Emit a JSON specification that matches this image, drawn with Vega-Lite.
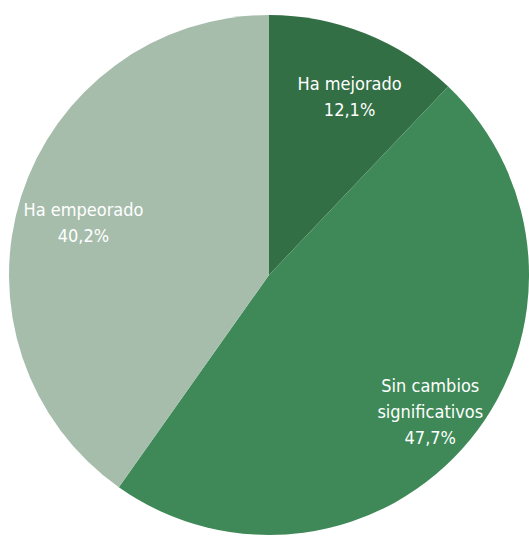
{
  "$schema": "https://vega.github.io/schema/vega-lite/v6.json",
  "width": 538,
  "height": 550,
  "padding": 0,
  "autosize": {"type": "none"},
  "background": "white",
  "view": {"stroke": null},
  "data": {
    "values": [
      {"categoria": "Ha mejorado", "valor": 12.1, "orden": 1, "etiqueta": "Ha mejorado\n12,1%"},
      {"categoria": "Sin cambios significativos", "valor": 47.7, "orden": 2, "etiqueta": "Sin cambios\nsignificativos\n47,7%"},
      {"categoria": "Ha empeorado", "valor": 40.2, "orden": 3, "etiqueta": "Ha empeorado\n40,2%"}
    ]
  },
  "encoding": {
    "theta": {"field": "valor", "type": "quantitative", "stack": true},
    "order": {"field": "orden", "type": "quantitative"}
  },
  "layer": [
    {
      "mark": {"type": "arc", "outerRadius": 260},
      "encoding": {
        "color": {
          "field": "categoria",
          "type": "nominal",
          "sort": null,
          "scale": {
            "domain": ["Ha mejorado", "Sin cambios significativos", "Ha empeorado"],
            "range": ["#336f45", "#3e8957", "#a6bdac"]
          },
          "legend": null
        }
      }
    },
    {
      "mark": {
        "type": "text",
        "radius": 201,
        "dx": 6,
        "dy": -3,
        "lineBreak": "\n",
        "font": "Liberation Sans Narrow, DejaVu Sans Condensed, sans-serif",
        "fontSize": 18,
        "lineHeight": 26,
        "color": "white",
        "align": "center",
        "baseline": "middle"
      },
      "encoding": {
        "text": {
          "condition": {"test": "length(split(datum.etiqueta, '\\n')) == 2", "field": "etiqueta", "type": "nominal"},
          "value": ""
        }
      }
    },
    {
      "mark": {
        "type": "text",
        "radius": 201,
        "dx": 6,
        "dy": -16,
        "lineBreak": "\n",
        "font": "Liberation Sans Narrow, DejaVu Sans Condensed, sans-serif",
        "fontSize": 18,
        "lineHeight": 26,
        "color": "white",
        "align": "center",
        "baseline": "middle"
      },
      "encoding": {
        "text": {
          "condition": {"test": "length(split(datum.etiqueta, '\\n')) == 3", "field": "etiqueta", "type": "nominal"},
          "value": ""
        }
      }
    }
  ]
}
